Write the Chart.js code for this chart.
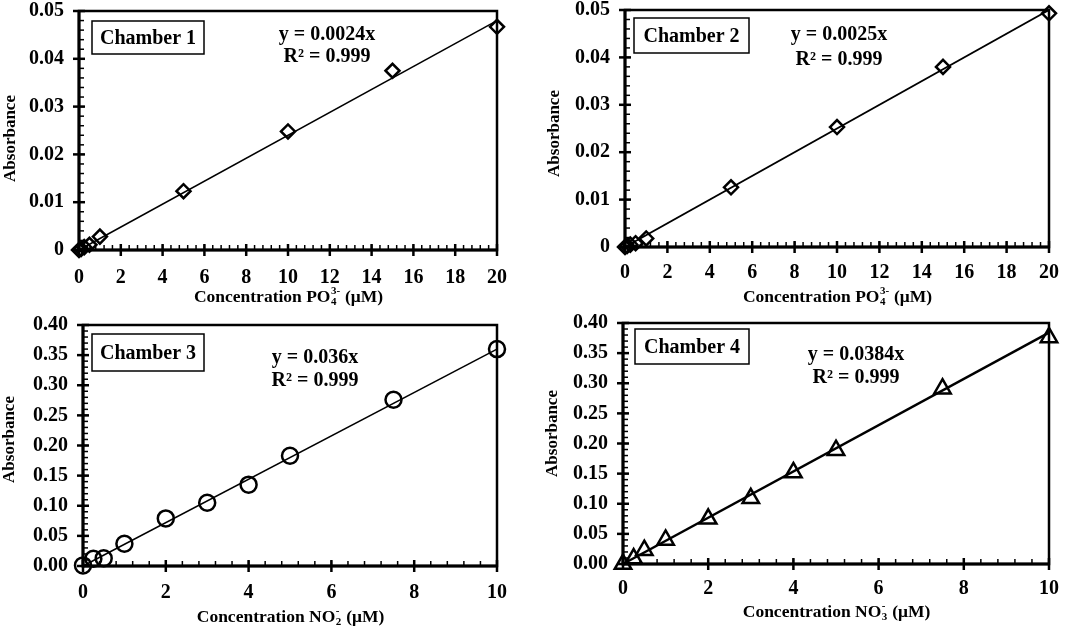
<!DOCTYPE html>
<html>
<head>
<meta charset="utf-8">
<script src="https://cdn.jsdelivr.net/npm/chart.js@4.4.0/dist/chart.umd.min.js"></script>
<style>
    html, body { margin: 0; padding: 0; background: #fff; }
    canvas { position: absolute; }
</style>
</head>
<body>
<canvas id="c1" width="536" height="312" style="left:0;top:0"></canvas>
<canvas id="c2" width="532" height="312" style="left:540px;top:0"></canvas>
<canvas id="c3" width="536" height="317" style="left:0;top:312px"></canvas>
<canvas id="c4" width="532" height="317" style="left:540px;top:312px"></canvas>
<script>
// ====== DATA ======
const conc1 = [0, 0.1, 0.25, 0.5, 1, 5, 10, 15, 20];
const abs1  = [0, 0.0002, 0.0006, 0.0011, 0.0028, 0.0123, 0.0248, 0.0375, 0.0467];
const conc2 = [0, 0.1, 0.25, 0.5, 1, 5, 10, 15, 20];
const abs2  = [0, 0.0002, 0.0005, 0.0008, 0.0018, 0.0126, 0.0253, 0.0380, 0.0493];
const conc3 = [0, 0.25, 0.5, 1, 2, 3, 4, 5, 7.5, 10];
const abs3  = [0.001, 0.012, 0.013, 0.037, 0.079, 0.105, 0.135, 0.183, 0.276, 0.360];
const conc4 = [0, 0.25, 0.5, 1, 2, 3, 4, 5, 7.5, 10];
const abs4  = [0, 0.009, 0.023, 0.040, 0.075, 0.109, 0.152, 0.189, 0.291, 0.376];

const slopes = [0.0024, 0.0025, 0.036, 0.0384];
const chamberNames = ['Chamber 1', 'Chamber 2', 'Chamber 3', 'Chamber 4'];
const equations = ['y = 0.0024x', 'y = 0.0025x', 'y = 0.036x', 'y = 0.0384x'];
const rSquared = ['R² = 0.999', 'R² = 0.999', 'R² = 0.999', 'R² = 0.999'];

const xTicks20 = ['0', '2', '4', '6', '8', '10', '12', '14', '16', '18', '20'];
const xTicks10 = ['0', '2', '4', '6', '8', '10'];
const yTicksP  = ['0', '0.01', '0.02', '0.03', '0.04', '0.05'];
const yTicksN  = ['0.00', '0.05', '0.10', '0.15', '0.20', '0.25', '0.30', '0.35', '0.40'];

// x titles: [text, 'n' | 'sub' | 'sup'] parts, sub+sup are stacked
const titlePO4 = [['Concentration PO', 'n'], ['4', 'sub'], ['3-', 'sup'], [' (μM)', 'n']];
const titleNO2 = [['Concentration NO', 'n'], ['2', 'sub'], ['-', 'sup'], [' (μM)', 'n']];
const titleNO3 = [['Concentration NO', 'n'], ['3', 'sub'], ['-', 'sup'], [' (μM)', 'n']];

const FONT = "'Liberation Serif', 'Times New Roman', serif";

// ====== DRAWING HELPERS ======
function line(ctx, x1, y1, x2, y2) {
    ctx.beginPath();
    ctx.moveTo(x1, y1);
    ctx.lineTo(x2, y2);
    ctx.stroke();
}

function drawRichTitle(ctx, parts, cx, cy, size) {
    const big = `bold ${size}px ${FONT}`;
    const small = `bold ${Math.round(size * 0.62)}px ${FONT}`;
    // measure
    let total = 0;
    for (let i = 0; i < parts.length; i++) {
        const [t, s] = parts[i];
        if (s === 'n') { ctx.font = big; total += ctx.measureText(t).width; }
        else if (s === 'sub') {
            ctx.font = small;
            const w1 = ctx.measureText(t).width;
            const w2 = parts[i + 1] ? ctx.measureText(parts[i + 1][0]).width : 0;
            total += Math.max(w1, w2);
            i++;
        }
    }
    let x = cx - total / 2;
    ctx.textBaseline = 'middle';
    ctx.textAlign = 'left';
    for (let i = 0; i < parts.length; i++) {
        const [t, s] = parts[i];
        if (s === 'n') {
            ctx.font = big;
            ctx.fillText(t, x, cy);
            x += ctx.measureText(t).width;
        } else if (s === 'sub') {
            ctx.font = small;
            const sup = parts[i + 1] ? parts[i + 1][0] : '';
            ctx.fillText(t, x + 0.5, cy + size * 0.3);
            ctx.fillText(sup, x + 0.5, cy - size * 0.32);
            x += Math.max(ctx.measureText(t).width, ctx.measureText(sup).width) + 1;
            i++;
        }
    }
}

// ====== FRAME + TEXT PLUGIN ======
const framePlugin = {
    id: 'frame',
    beforeDatasetsDraw(chart, args, o) {
        const { ctx, chartArea: a, scales: { x, y } } = chart;
        ctx.save();
        ctx.strokeStyle = '#000';
        ctx.lineCap = 'butt';

        // minor ticks (inside)
        ctx.lineWidth = 1.5;
        const nx = Math.round((x.max - x.min) / o.xMinor);
        for (let i = 1; i < nx; i++) {
            const px = x.getPixelForValue(x.min + i * o.xMinor);
            line(ctx, px, a.bottom, px, a.bottom - 5);
        }
        const ny = Math.round((y.max - y.min) / o.yMinor);
        for (let i = 1; i < ny; i++) {
            const py = y.getPixelForValue(y.min + i * o.yMinor);
            line(ctx, a.left, py, a.left + 5, py);
        }

        // major ticks (crossing)
        ctx.lineWidth = 2.5;
        x.ticks.forEach(t => {
            const px = x.getPixelForValue(t.value);
            line(ctx, px, a.bottom - 6, px, a.bottom + 6);
        });
        y.ticks.forEach(t => {
            const py = y.getPixelForValue(t.value);
            line(ctx, a.left - 6, py, a.left + 6, py);
        });

        // box
        ctx.lineWidth = 2.5;
        ctx.strokeRect(a.left, a.top, a.right - a.left, a.bottom - a.top);
        ctx.lineWidth = 3;
        line(ctx, a.left, a.top - 1, a.left, a.bottom + 1.5);
        line(ctx, a.left - 1, a.bottom, a.right + 1, a.bottom);
        ctx.restore();
    },
    afterDatasetsDraw(chart, args, o) {
        const { ctx, chartArea: a } = chart;
        ctx.save();
        ctx.fillStyle = '#000';
        ctx.strokeStyle = '#000';

        // chamber label box
        const b = o.box;
        ctx.fillStyle = '#fff';
        ctx.fillRect(a.left + b[0], a.top + b[1], b[2], b[3]);
        ctx.fillStyle = '#000';
        ctx.lineWidth = 1.5;
        ctx.strokeRect(a.left + b[0], a.top + b[1], b[2], b[3]);
        ctx.font = `bold 20px ${FONT}`;
        ctx.textAlign = 'center';
        ctx.textBaseline = 'middle';
        ctx.fillText(o.name, a.left + b[0] + b[2] / 2, a.top + b[1] + b[3] / 2 + 1);

        // equation
        ctx.fillText(o.eq, a.left + o.eqPos[0], a.top + o.eqPos[1]);
        ctx.fillText(o.r2, a.left + o.eqPos[0], a.top + o.eqPos[2]);

        // y title
        ctx.save();
        ctx.translate(o.yTitleX, (a.top + a.bottom) / 2 + o.yTitleDy);
        ctx.rotate(-Math.PI / 2);
        ctx.font = `bold 17px ${FONT}`;
        ctx.fillText('Absorbance', 0, 0);
        ctx.restore();

        // x title
        drawRichTitle(ctx, o.xTitle, (a.left + a.right) / 2, o.xTitleY, 17.5);
        ctx.restore();
    }
};

// keep the chart area exactly where the layout puts it
function noScalePadding(s) {
    s.paddingTop = 0;
    s.paddingBottom = 0;
    s.paddingLeft = 0;
    s.paddingRight = 0;
}

// ====== CHART FACTORY ======
function makeChart(id, p) {
    const pts = p.conc.map((v, i) => ({ x: v, y: p.abs[i] }));
    const xEnd = p.conc[p.conc.length - 1];
    const fit = [{ x: 0, y: 0 }, { x: xEnd, y: p.slope * xEnd }];
    const tickFont = { family: FONT, size: 20, weight: 'bold' };

    new Chart(document.getElementById(id), {
        type: 'scatter',
        data: {
            datasets: [
                { data: pts, showLine: false, pointStyle: p.marker, pointRadius: p.r, pointBorderWidth: 2.5,
                  pointBorderColor: '#000', pointBackgroundColor: 'rgba(255,255,255,0)', clip: false },
                { data: fit, showLine: true, borderColor: '#000', borderWidth: p.lineW, pointRadius: 0, clip: false }
            ]
        },
        options: {
            responsive: false,
            animation: false,
            devicePixelRatio: 1,
            events: [],
            layout: { autoPadding: false, padding: { top: p.padTop, right: p.padRight, left: 0, bottom: 0 } },
            plugins: { legend: { display: false }, tooltip: { enabled: false }, frame: p.frame },
            scales: {
                x: {
                    type: 'linear', min: 0, max: p.xMax,
                    grid: { display: false, drawTicks: false }, border: { display: false },
                    ticks: { stepSize: 2, padding: p.xPad, color: '#000', font: tickFont, maxRotation: 0,
                             callback: (v, i) => p.xLabels[i] },
                    afterFit: s => { s.height = p.xH; noScalePadding(s); }
                },
                y: {
                    type: 'linear', min: 0, max: p.yMax,
                    grid: { display: false, drawTicks: false }, border: { display: false },
                    ticks: { stepSize: p.yStep, padding: 15, color: '#000', font: tickFont,
                             callback: (v, i) => p.yLabels[i] },
                    afterFit: s => { s.width = p.yW; noScalePadding(s); }
                }
            }
        },
        plugins: [framePlugin]
    });
}

makeChart('c1', {
    conc: conc1, abs: abs1, slope: slopes[0], marker: 'rectRot', r: 7, lineW: 1.5,
    xMax: 20, yMax: 0.05, yStep: 0.01, xLabels: xTicks20, yLabels: yTicksP,
    padTop: 11, padRight: 39, yW: 79, xH: 62, xPad: 16,
    frame: { xMinor: 0.4, yMinor: 0.002, box: [13, 10, 112, 33], name: chamberNames[0],
             eq: equations[0], r2: rSquared[0], eqPos: [248, 24, 46],
             yTitleX: 11, yTitleDy: 8, xTitle: titlePO4, xTitleY: 297 }
});
makeChart('c2', {
    conc: conc2, abs: abs2, slope: slopes[1], marker: 'rectRot', r: 7, lineW: 2,
    xMax: 20, yMax: 0.05, yStep: 0.01, xLabels: xTicks20, yLabels: yTicksP,
    padTop: 10, padRight: 23, yW: 85, xH: 65, xPad: 14,
    frame: { xMinor: 0.4, yMinor: 0.002, box: [9, 8, 115, 35], name: chamberNames[1],
             eq: equations[1], r2: rSquared[1], eqPos: [214, 25, 50],
             yTitleX: 15, yTitleDy: 5, xTitle: titlePO4, xTitleY: 297 }
});
makeChart('c3', {
    conc: conc3, abs: abs3, slope: slopes[2], marker: 'circle', r: 8, lineW: 1.5,
    xMax: 10, yMax: 0.4, yStep: 0.05, xLabels: xTicks10, yLabels: yTicksN,
    padTop: 13, padRight: 39, yW: 83, xH: 63, xPad: 15,
    frame: { xMinor: 0.4, yMinor: 0.01, box: [9, 9, 112, 37], name: chamberNames[2],
             eq: equations[2], r2: rSquared[2], eqPos: [232, 33, 56],
             yTitleX: 10, yTitleDy: -6, xTitle: titleNO2, xTitleY: 305 }
});
makeChart('c4', {
    conc: conc4, abs: abs4, slope: slopes[3], marker: 'triangle', r: 9.5, lineW: 2.5,
    xMax: 10, yMax: 0.4, yStep: 0.05, xLabels: xTicks10, yLabels: yTicksN,
    padTop: 11, padRight: 23, yW: 83, xH: 65, xPad: 13,
    frame: { xMinor: 0.4, yMinor: 0.01, box: [12, 6, 114, 35], name: chamberNames[3],
             eq: equations[3], r2: rSquared[3], eqPos: [233, 32, 55],
             yTitleX: 13, yTitleDy: -10, xTitle: titleNO3, xTitleY: 300 }
});
</script>
</body>
</html>
